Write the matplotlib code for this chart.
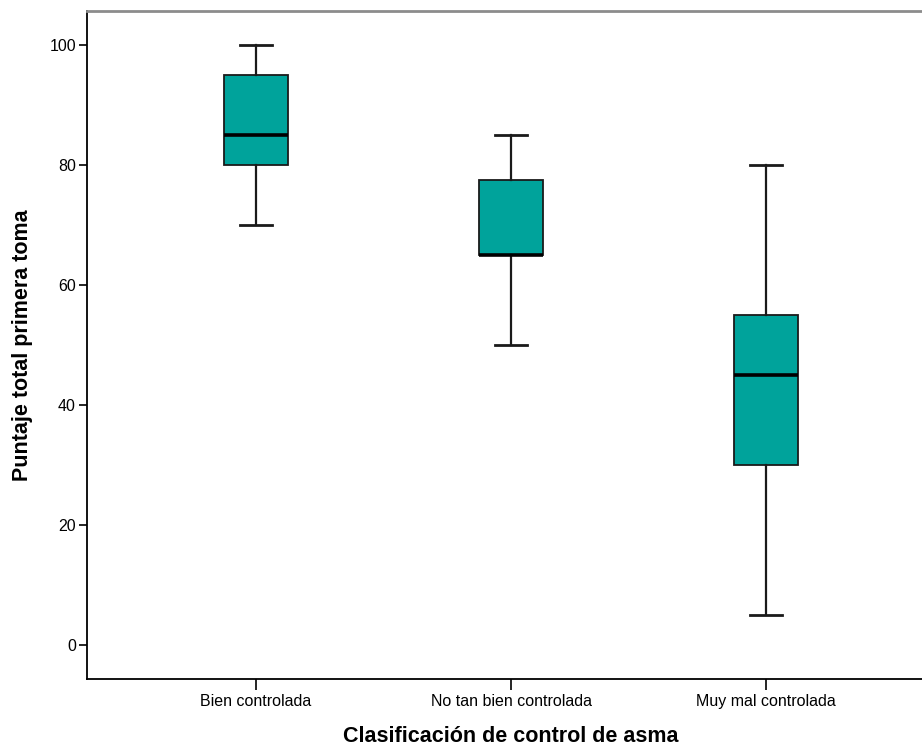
import matplotlib
matplotlib.use("Agg")
import matplotlib.pyplot as plt

categories = ["Bien controlada", "No tan bien controlada", "Muy mal controlada"]
whisker_low = [70, 50, 5]
q1 = [80, 65, 30]
median = [85, 65, 45]
q3 = [95, 77.5, 55]
whisker_high = [100, 85, 80]

plt.rcParams['font.family'] = ['Liberation Sans', 'DejaVu Sans']

fig = plt.figure(figsize=(9.22, 7.46), dpi=100)
ax = fig.add_axes([87/922, 67/746, (935-87)/922, (679-11)/746])

stats = []
for i, c in enumerate(categories):
    stats.append(dict(label=c, whislo=whisker_low[i], q1=q1[i], med=median[i],
                      q3=q3[i], whishi=whisker_high[i], fliers=[]))

ax.bxp(stats, positions=[1, 2, 3], widths=0.25, patch_artist=True,
       boxprops=dict(facecolor="#00A39B", edgecolor="#1a1a1a", linewidth=1.3),
       medianprops=dict(color="black", linewidth=2.6),
       whiskerprops=dict(color="#1a1a1a", linewidth=1.6),
       capprops=dict(color="#1a1a1a", linewidth=2.0),
       capwidths=0.125, showfliers=False)

ax.set_xlim(1 - 169/255, 3 + 169/255)
ax.set_ylim(-34/6, 100 + 34/6)
ax.set_yticks([0, 20, 40, 60, 80, 100])
ax.set_xticks([1, 2, 3])
ax.set_xticklabels(categories)

ax.tick_params(axis='y', direction='out', length=6, width=1.2, labelsize=11.5, pad=2, colors="black")
ax.tick_params(axis='x', direction='out', length=8, width=1.2, labelsize=11.5, pad=3, colors="black")

for s in ['left', 'bottom']:
    ax.spines[s].set_linewidth(1.3)
    ax.spines[s].set_color("black")
ax.spines['top'].set_color("#8c8c8c")
ax.spines['top'].set_linewidth(2)
ax.spines['right'].set_visible(False)

ax.set_ylabel("Puntaje total primera toma", fontsize=15.5, fontweight='bold')
ax.yaxis.set_label_coords(-65/848, 0.5)
ax.set_xlabel("Clasificación de control de asma", fontsize=15.5, fontweight='bold')
ax.xaxis.set_label_coords((511-87)/848, -(737-679)/668)
ax.xaxis.label.set_va('center')
ax.yaxis.label.set_va('center')

fig.savefig("out.png", dpi=100)
